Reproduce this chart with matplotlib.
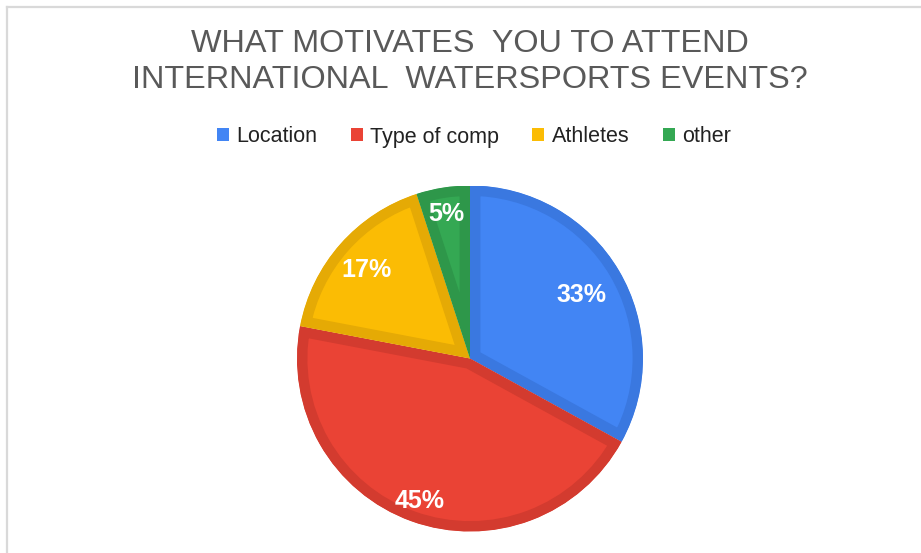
import matplotlib.pyplot as plt
import numpy as np
from matplotlib.lines import Line2D
from matplotlib.patches import Patch

plt.rcParams["font.family"] = ["Liberation Sans", "DejaVu Sans"]

# data
labels = ["Location", "Type of comp", "Athletes", "other"]
shares = [33, 45, 17, 5]
colors = ["#4285F4", "#EA4335", "#FBBC04", "#34A853"]
edge_colors = ["#3A78E0", "#D33B2F", "#E5AA05", "#2E974A"]
label_dist = [0.75, 0.86, 0.80, 0.86]

fig = plt.figure(figsize=(9.21, 5.53), dpi=100)
W, H = 921, 553

# pie axes, centre (470, 358) px, radius 173 px
cx, cy, r = 470, 358.5, 173
ax = fig.add_axes([(cx - r) / W, (H - cy - r) / H, 2 * r / W, 2 * r / H])
wedges, _ = ax.pie(shares, colors=colors, startangle=90, counterclock=False,
                   radius=1.0, wedgeprops=dict(linewidth=0))
ax.set_xlim(-1, 1)
ax.set_ylim(-1, 1)
ax.set_aspect("equal")
ax.axis("off")

# inner darker border on each slice (stroke clipped to the slice itself)
for w, ec in zip(wedges, edge_colors):
    w.set_edgecolor(ec)
    w.set_linewidth(15)
    w.set_clip_on(True)
    w.set_clip_path(w)

# percent labels
total = sum(shares)
start = 90.0
for s, d in zip(shares, label_dist):
    mid = np.deg2rad(start - s / total * 180)
    ax.text(d * np.cos(mid), d * np.sin(mid) - 0.015, f"{round(s / total * 100)}%",
            color="white", fontsize=18, fontweight="bold",
            ha="center", va="center")
    start -= s / total * 360

# title
fig.text(470 / W, 1 - 44 / H, "WHAT MOTIVATES  YOU TO ATTEND",
         ha="center", va="center", fontsize=23.3, color="#595959")
fig.text(470 / W, 1 - 80 / H, "INTERNATIONAL  WATERSPORTS EVENTS?",
         ha="center", va="center", fontsize=23.3, color="#595959")

# legend
handles = [Patch(facecolor=c, edgecolor="none") for c in colors]
fig.legend(handles, labels, loc="center", bbox_to_anchor=(474 / W, 1 - 137 / H),
           ncol=4, frameon=False, fontsize=15.5, handlelength=0.56,
           handleheight=0.56, handletextpad=0.33, columnspacing=1.55,
           labelcolor="#222222")

# frame lines along top and left
fig.add_artist(Line2D([6.5 / W, 1], [1 - 6.5 / H, 1 - 6.5 / H],
                      transform=fig.transFigure, color="#D9D9D9", lw=1.6))
fig.add_artist(Line2D([6.5 / W, 6.5 / W], [0, 1 - 6.5 / H],
                      transform=fig.transFigure, color="#D9D9D9", lw=1.6))

fig.savefig("out.png", dpi=100)
